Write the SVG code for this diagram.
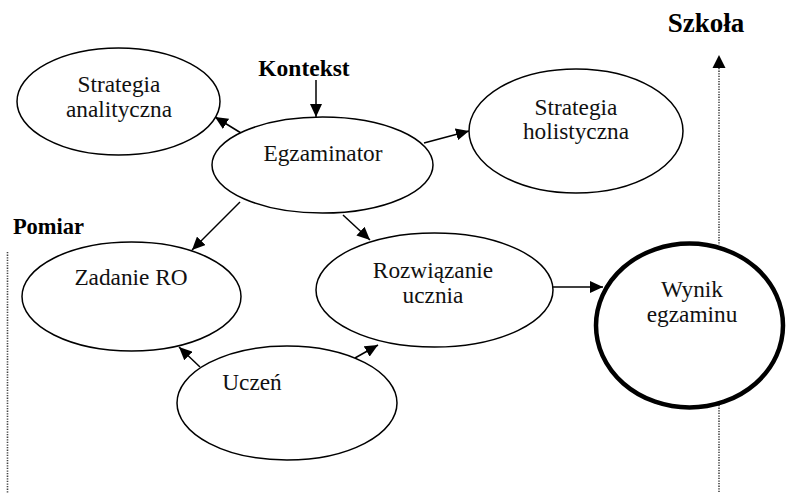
<svg xmlns="http://www.w3.org/2000/svg" width="786" height="493" viewBox="0 0 786 493" font-family="Liberation Serif, Times New Roman, serif">
<defs>
<marker id="ah" markerUnits="userSpaceOnUse" markerWidth="14" markerHeight="12" refX="13" refY="6" orient="auto">
<path d="M0,0 L13,6 L0,12 Z" fill="#000"/>
</marker>
</defs>
<style>
.n{fill:#fff;stroke:#000;stroke-width:1.5}
.nb{fill:#fff;stroke:#000;stroke-width:4.5}
.t{font-size:23.3px;fill:#111;text-anchor:middle}
.b{font-size:23.5px;font-weight:bold;fill:#000;text-anchor:middle}
.c{stroke:#000;stroke-width:1.5;fill:none;marker-end:url(#ah)}
.d{stroke:#444;stroke-width:1.6;stroke-dasharray:1.3 1.3;fill:none}
</style>
<rect width="786" height="493" fill="#fff"/>
<g id="labels" font-family="Liberation Serif, serif">
<text class="b" x="304" y="76">Kontekst</text>
<text class="b" x="706" y="32" style="font-size:27px">Szkoła</text>
<text class="b" x="48.5" y="234" style="font-size:22.5px">Pomiar</text>
</g>
<g id="axes">
<line class="d" x1="7.5" y1="252" x2="7.5" y2="493"/>
<line class="d" x1="719" y1="68" x2="719" y2="245"/>
<line class="d" x1="719" y1="405" x2="719" y2="493"/>
<path d="M719,55 L725.5,68 L712.5,68 Z" fill="#000"/>
</g>
<g id="connectors">
<line class="c" x1="316" y1="80" x2="316" y2="117"/>
<line class="c" x1="241" y1="133" x2="215" y2="117"/>
<line class="c" x1="424" y1="143" x2="469" y2="131"/>
<line class="c" x1="240" y1="202" x2="192" y2="250"/>
<line class="c" x1="343" y1="215" x2="370" y2="240"/>
<line class="c" x1="200" y1="367" x2="179" y2="347"/>
<line class="c" x1="355" y1="358" x2="378" y2="345"/>
<line class="c" x1="553" y1="287" x2="603" y2="287"/>
</g>
<g id="strategia-analityczna" font-family="Liberation Serif, serif">
<ellipse class="n" cx="118.5" cy="101.5" rx="101.5" ry="53.5"/>
<text class="t" x="119" y="92">Strategia</text>
<text class="t" x="119" y="117">analityczna</text>
</g>
<g id="egzaminator" font-family="Liberation Serif, serif">
<ellipse class="n" cx="322.5" cy="165" rx="110.5" ry="48"/>
<text class="t" x="323" y="161">Egzaminator</text>
</g>
<g id="strategia-holistyczna" font-family="Liberation Serif, serif">
<ellipse class="n" cx="576" cy="131" rx="107" ry="62"/>
<text class="t" x="576" y="115">Strategia</text>
<text class="t" x="576" y="139">holistyczna</text>
</g>
<g id="zadanie-ro" font-family="Liberation Serif, serif">
<ellipse class="n" cx="131.5" cy="296.5" rx="109.5" ry="54.5"/>
<text class="t" x="131" y="285">Zadanie RO</text>
</g>
<g id="rozwiazanie-ucznia" font-family="Liberation Serif, serif">
<ellipse class="n" cx="434.5" cy="290" rx="118.5" ry="57"/>
<text class="t" x="433" y="278">Rozwiązanie</text>
<text class="t" x="433" y="303">ucznia</text>
</g>
<g id="uczen" font-family="Liberation Serif, serif">
<ellipse class="n" cx="287" cy="403" rx="110" ry="57"/>
<text class="t" x="252" y="390">Uczeń</text>
</g>
<g id="wynik-egzaminu" font-family="Liberation Serif, serif">
<ellipse class="nb" cx="689.5" cy="325.5" rx="93.5" ry="82"/>
<text class="t" x="692" y="297">Wynik</text>
<text class="t" x="692" y="322">egzaminu</text>
</g>
</svg>
